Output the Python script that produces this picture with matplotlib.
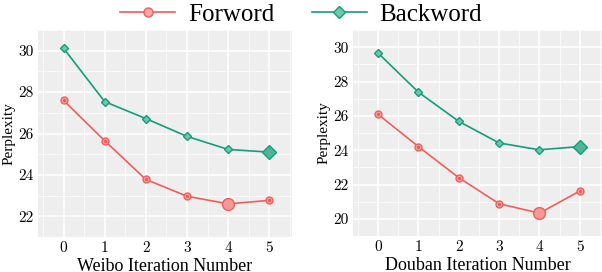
import matplotlib.pyplot as plt
import numpy as np

plt.rcParams['font.family'] = 'serif'
plt.rcParams['font.serif'] = ['Liberation Serif', 'DejaVu Serif']
plt.rcParams['mathtext.fontset'] = 'cm'

iters = [0, 1, 2, 3, 4, 5]
weibo_fwd = [27.60, 25.65, 23.78, 22.97, 22.60, 22.77]
weibo_bwd = [30.12, 27.54, 26.72, 25.86, 25.23, 25.10]
douban_fwd = [26.09, 24.21, 22.40, 20.88, 20.33, 21.62]
douban_bwd = [29.66, 27.38, 25.68, 24.42, 24.02, 24.21]

red = '#EE5F5B'
green = '#129E7A'

fig = plt.figure(figsize=(6.02, 2.72), dpi=100)
ax1 = fig.add_axes([38/602, 1-237/272, 254/602, 207/272])
ax2 = fig.add_axes([353/602, 1-236/272, 249/602, 206/272])

def style(ax, ylim, yt):
    ax.set_facecolor('#EEEEEE')
    ax.set_xlim(-0.62, 5.55)
    ax.set_ylim(*ylim)
    ax.set_xticks(iters)
    ax.set_yticks(yt)
    ax.set_xticks(np.arange(-0.5, 5.6, 1.0), minor=True)
    ax.set_yticks(np.arange(yt[0] - 1, yt[-1] + 1.5, 2), minor=True)
    ax.grid(which='major', color='white', linewidth=1.1)
    ax.grid(which='minor', color='white', linewidth=0.5)
    ax.set_axisbelow(True)
    for s in ax.spines.values():
        s.set_visible(False)
    ax.tick_params(which='both', length=0, labelsize=11, pad=3)
    for t in ax.get_xticklabels() + ax.get_yticklabels():
        t.set_fontfamily('cmr10')
    ax.set_ylabel('Perplexity', fontsize=11, labelpad=2)

def draw(ax, fwd, bwd, fi, bi):
    ax.plot(iters, fwd, color=red, linewidth=1.2, marker='o', markersize=5,
            mfc='#F6A8A5', mec=red, mew=1.0, label='Forword')
    ax.plot(iters, fwd, linestyle='none', marker='.', markersize=3, color=red)
    ax.plot(iters[fi], fwd[fi], marker='o', markersize=8.5, mfc='#F39A96', mec=red, mew=1.0)
    ax.plot(iters, bwd, color=green, linewidth=1.2, marker='D', markersize=4.5,
            mfc='#6FC7AE', mec=green, mew=1.0, label='Backword')
    ax.plot(iters[bi], bwd[bi], marker='D', markersize=7.5, mfc='#4FB598', mec=green, mew=1.0)

style(ax1, (21.78, 30.88), [22, 24, 26, 28, 30])
style(ax2, (19.42, 30.6), [20, 22, 24, 26, 28, 30])
draw(ax1, weibo_fwd, weibo_bwd, 4, 5)
draw(ax2, douban_fwd, douban_bwd, 4, 5)
ax1.set_xlabel('Weibo Iteration Number', fontsize=13, labelpad=2)
ax2.set_xlabel('Douban Iteration Number', fontsize=13, labelpad=2)

h, l = ax1.get_legend_handles_labels()
fig.legend(h, l, loc='upper center', bbox_to_anchor=(0.5, 1.07),
           ncol=2, frameon=False, fontsize=18, handlelength=2.2, columnspacing=1.5,
           handletextpad=0.5, markerscale=1.3)

fig.savefig('out.png', dpi=100)
